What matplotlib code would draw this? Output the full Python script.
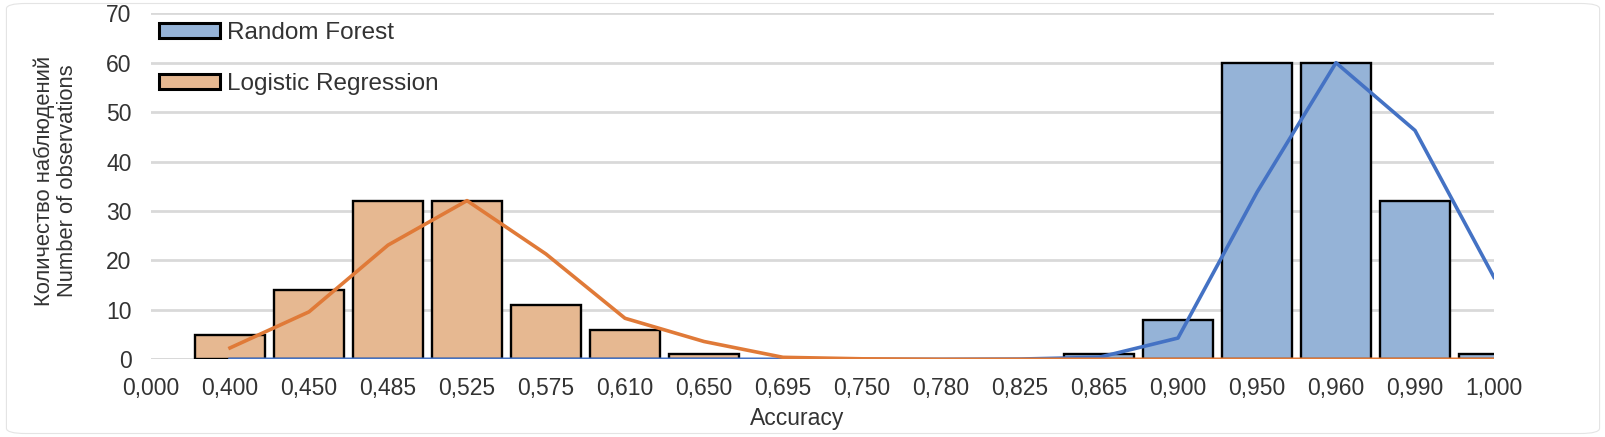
import numpy as np
import matplotlib
matplotlib.use("Agg")
import matplotlib.pyplot as plt
from matplotlib.patches import Patch, FancyBboxPatch

plt.rcParams['font.family'] = ['Liberation Sans', 'DejaVu Sans']

# ---- data ----
categories = ["0,000", "0,400", "0,450", "0,485", "0,525", "0,575", "0,610", "0,650",
              "0,695", "0,750", "0,780", "0,825", "0,865", "0,900", "0,950", "0,960",
              "0,990", "1,000"]
rf_counts = [None, 0, 0, 0, 0, 0, 0, 0, 0, 0, 0, 0, 1, 8, 60, 60, 32, 1]
lr_counts = [None, 5, 14, 32, 32, 11, 6, 1, 0, 0, 0, 0, 0, 0, 0, 0, 0, 0]
rf_curve = [None, 0, 0, 0, 0, 0, 0, 0, 0, 0, 0, 0.05, 0.4, 4.3, 33.8, 60.0, 46.3, 16.6]
lr_curve = [None, 2.3, 9.6, 23.1, 32.1, 21.3, 8.3, 3.6, 0.4, 0.1, 0, 0, 0, 0, 0, 0, 0, 0]
series_names = ["Random Forest", "Logistic Regression"]

W, H, DPI = 1606, 437, 100
fig = plt.figure(figsize=(W / DPI, H / DPI), dpi=DPI)

# rounded outer border
fig.patches.append(FancyBboxPatch((0.004, 0.008), 0.992, 0.984,
                                  boxstyle="round,pad=0,rounding_size=0.012",
                                  transform=fig.transFigure, facecolor='white',
                                  edgecolor='#e4e4e4', linewidth=0.8, zorder=-10))

ax = fig.add_axes([151 / W, 1 - 359.3 / H, (1494 - 151) / W, (359.3 - 13.3) / H])
ax.set_facecolor('none')

x = np.arange(len(categories))
blue_fill, blue_line = '#95B3D7', '#4472C4'
orange_fill, orange_line = '#E6B891', '#E07A38'
bw = 0.89
edge_lw = 1.7

def draw_bars(counts, color):
    xs = [i for i, v in enumerate(counts) if v]
    hs = [counts[i] for i in xs]
    ax.bar(xs, hs, width=bw, color=color, edgecolor='black', linewidth=edge_lw, zorder=2)

draw_bars(rf_counts, blue_fill)
draw_bars(lr_counts, orange_fill)

def curve(vals):
    xs = [i for i, v in enumerate(vals) if v is not None]
    ys = [vals[i] for i in xs]
    return xs, ys

ax.plot(*curve(rf_curve), color=blue_line, linewidth=2.6, zorder=3, solid_joinstyle='round')
ax.plot(*curve(lr_curve), color=orange_line, linewidth=2.6, zorder=4, solid_joinstyle='round')

ax.set_xlim(0, len(categories) - 1)
ax.set_ylim(0, 70)
ax.set_yticks(np.arange(0, 71, 10))
ax.set_xticks(x)
ax.set_xticklabels(categories)
ax.yaxis.grid(True, color='#d9d9d9', linewidth=2.0, zorder=0)
ax.set_axisbelow(True)
for s in ax.spines.values():
    s.set_visible(False)
ax.tick_params(axis='both', length=0, labelsize=16.5, colors='#333333', pad=13)
ax.tick_params(axis='y', pad=14)
ax.axhline(0, color='#d9d9d9', linewidth=2.0, zorder=0.5)

fig.text(797 / W, 1 - 418 / H, "Accuracy", ha='center', va='center', fontsize=16.5, color='#333333')
fig.text(56 / W, 1 - 181 / H, "Количество наблюдений\nNumber of observations", rotation=90,
         ha='center', va='center', fontsize=15.8, color='#333333', linespacing=1.1,
         multialignment='center')

handles = [Patch(facecolor=blue_fill, edgecolor='black', linewidth=2.2),
           Patch(facecolor=orange_fill, edgecolor='black', linewidth=2.2)]
leg = fig.legend(handles, series_names, loc='upper left',
                 bbox_to_anchor=(159 / W, 1 - 22 / H), frameon=False, fontsize=17.5,
                 handlelength=2.5, handleheight=0.6, handletextpad=0.28,
                 labelspacing=1.2, borderpad=0, borderaxespad=0)
for t in leg.get_texts():
    t.set_color('#333333')

fig.savefig("out.png", dpi=DPI)
